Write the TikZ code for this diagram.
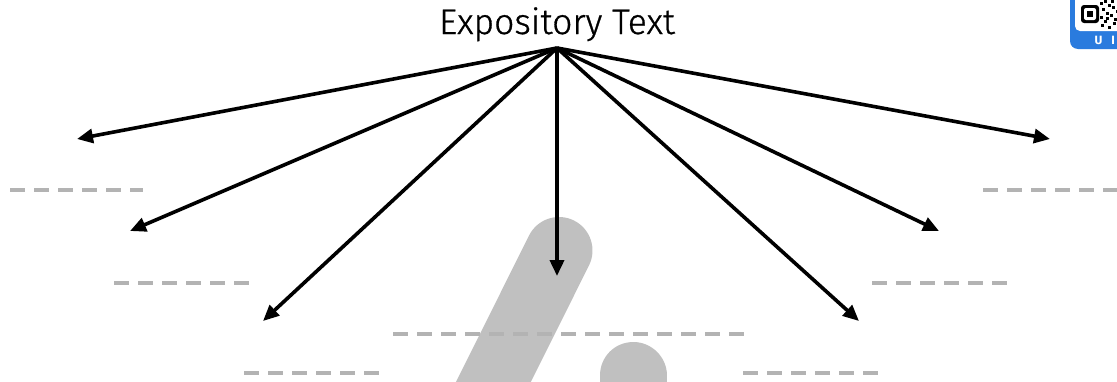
\documentclass[tikz,border=0pt]{standalone}
\usepackage{fontspec}
\setmainfont{Fira Sans}
\newfontfamily\titlefont{Fira Sans Light}[FakeBold=0.8]
\usetikzlibrary{arrows.meta}
\definecolor{dashgray}{HTML}{B3B3B3}
\definecolor{shapegray}{HTML}{C0C0C0}
\definecolor{logoblue}{HTML}{2A7BDE}
\tikzset{
  ray/.style={line width=3.6pt, black, -{Triangle[length=16pt,width=14pt]}},
  blank/.style={line width=3.2pt, dashgray, dash pattern=on 15pt off 9pt},
}
\begin{document}
\begin{tikzpicture}[x=1pt,y=-1pt]
\useasboundingbox (0,0) rectangle (1117,381);
\begin{scope}
\clip (0,0) rectangle (1117,381);
% gray background strokes
\draw[shapegray, line width=67pt, line cap=round] (559,250.5) -- (459.5,450);
\draw[shapegray, line width=67pt, line cap=round] (633,375.5) -- (633,450);
% logo
\fill[logoblue, rounded corners=8pt] (1070,-12) rectangle (1135,49);
\fill[white, rounded corners=5pt] (1075,-12) rectangle (1135,31);
\fill[black, rounded corners=3pt] (1081,5) rectangle (1099,23);
\fill[white, rounded corners=2pt] (1084,8) rectangle (1096,20);
\fill[black] (1087,11) rectangle (1093,17);
\foreach \a/\b in {1100/2,1104/0,1108/4,1102/8,1106/12,1112/6,1100/16,1110/14,1104/20,1114/18,1101/24,1108/26,1113/22,1116/10,1111/0,1106/17}
  \fill[black] (\a,\b) rectangle ++(3,3);
\node[white, font=\bfseries\fontsize{12}{12}\selectfont, anchor=base, inner sep=0pt] (logoU) at (1098.5,44.5) {U};
\node[white, font=\bfseries\fontsize{12}{12}\selectfont, anchor=base, inner sep=0pt] (logoI) at (1113,44.5) {I};
\end{scope}
% dashed blanks
\draw[blank] (10,190) -- (143,190);
\draw[blank] (114,283) -- (250,283);
\draw[blank] (244,373) -- (380,373);
\draw[blank] (393,334) -- (744,334);
\draw[blank] (743,373) -- (879,373);
\draw[blank] (872,283) -- (1008,283);
\draw[blank] (983,190) -- (1120,190);
% title and rays
\node[font=\titlefont\fontsize{35.5}{38}\selectfont, anchor=base, inner sep=0pt] (title) at (557,34) {Expository Text};
\coordinate (apex) at (557,48);
\coordinate (e1) at (77,139);
\coordinate (e2) at (130,231);
\coordinate (e3) at (263,321);
\coordinate (e4) at (557,276);
\coordinate (e5) at (859,321);
\coordinate (e6) at (939,231);
\coordinate (e7) at (1050,139);
\foreach \e in {e1,e2,e3,e4,e5,e6,e7}
  \draw[ray] (apex) -- (\e);
\end{tikzpicture}
\end{document}
